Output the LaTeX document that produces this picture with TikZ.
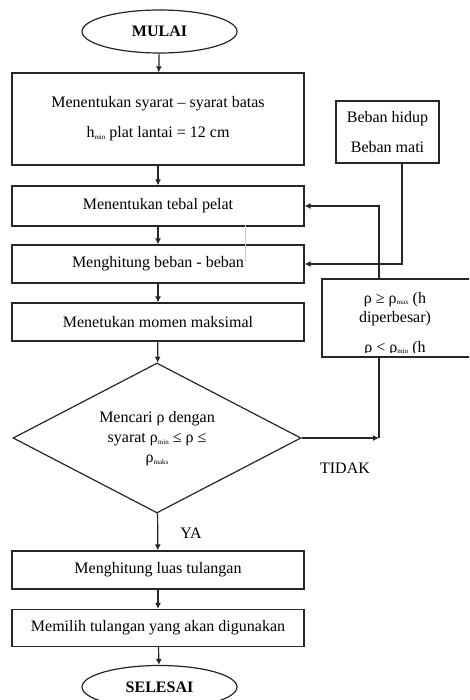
\documentclass[tikz,border=0pt]{standalone}
\usepackage{fontspec}
\setmainfont{Liberation Serif}
\usetikzlibrary{shapes.geometric,arrows.meta,calc}
\newcommand{\sbs}[1]{\raisebox{-1.5pt}{\fontsize{7}{7}\selectfont #1}}
\tikzset{
  base/.style={draw=black!85, line width=1.2pt, font=\fontsize{16}{19}\selectfont},
  procbox/.style={base, rectangle, minimum width=292pt, inner sep=0pt, align=center},
  term/.style={base, ellipse, minimum width=155pt, minimum height=43pt, inner sep=0pt, font=\fontsize{16}{19}\selectfont\bfseries},
  decide/.style={base, diamond, minimum width=288pt, minimum height=150pt, aspect=1.92, inner sep=0pt, align=center},
  lbl/.style={font=\fontsize{16}{19}\selectfont, inner sep=0pt, align=center},
  arr/.style={draw=black!85, line width=1.2pt, -{Latex[length=6pt,width=6pt]}},
  ln/.style={draw=black!85, line width=1.2pt},
}
\begin{document}
\begin{tikzpicture}[x=1pt,y=-1pt]
\useasboundingbox (0,0) rectangle (469,700);
\clip (0,0) rectangle (469,700);
\fill[white] (0,0) rectangle (469,700);

\node[term] (mulai) at (159.5,31.5) {MULAI};
\node[procbox, minimum height=92pt] (b1) at (158,119) {Menentukan syarat -- syarat batas\\[11pt]h\sbs{min} plat lantai = 12 cm};
\node[base, rectangle, minimum width=103pt, minimum height=62pt, inner sep=0pt, align=center] (beban) at (387.5,132) {Beban hidup\\[11pt]Beban mati};
\node[procbox, minimum height=40pt] (b2) at (158,206) {Menentukan tebal pelat};
\node[procbox, minimum height=38pt] (b3) at (158,264) {Menghitung beban - beban};
\node[procbox, minimum height=38pt] (b4) at (158,322) {Menetukan momen maksimal};
\node[base, rectangle, minimum width=153pt, minimum height=78pt, inner sep=0pt] (rho) at (398.5,318) {};
\begin{scope}
\clip (322,279) rectangle (469,352);
\node[lbl, anchor=north] (rhotext) at (395,292) {ρ ≥ ρ\sbs{max} (h\\diperbesar)\\[11pt]ρ < ρ\sbs{min} (h};
\end{scope}
\node[decide] (dec) at (157,438) {};
\node[lbl] (dectext) at (157,439) {Mencari ρ dengan\\[1pt]syarat ρ\sbs{min} ≤ ρ ≤\\[1pt]ρ\sbs{maks}};
\node[procbox, minimum height=38pt] (b5) at (158,570) {Menghitung luas tulangan};
\node[procbox, minimum height=37pt] (b6) at (158,628) {Memilih tulangan yang akan digunakan};
\node[term] (selesai) at (159.5,687) {SELESAI};
\node[lbl] (tidak) at (345,468) {TIDAK};
\node[lbl] (ya) at (191,533) {YA};

\coordinate (j) at (379,438);
\coordinate (bx) at (402,264);

\draw[arr] (mulai) -- (b1);
\draw[arr] (b1) -- (b2);
\draw[arr] (b2) -- (b3);
\draw[arr] (b3) -- (b4);
\draw[arr] (b4) -- (dec);
\draw[arr] (dec) -- (b5);
\draw[arr] (b5) -- (b6);
\draw[arr] (b6) -- (selesai);

\draw[arr] (dec.east) -- (j);
\draw[ln] (rho.south -| j) -- (j);
\draw[arr] (rho.north -| j) |- (b2.east);
\draw[arr] (beban.south -| bx) -- (bx) -- (b3.east);

\draw[black!20, line width=0.8pt] (245,225) -- (245,262);
\end{tikzpicture}
\end{document}
